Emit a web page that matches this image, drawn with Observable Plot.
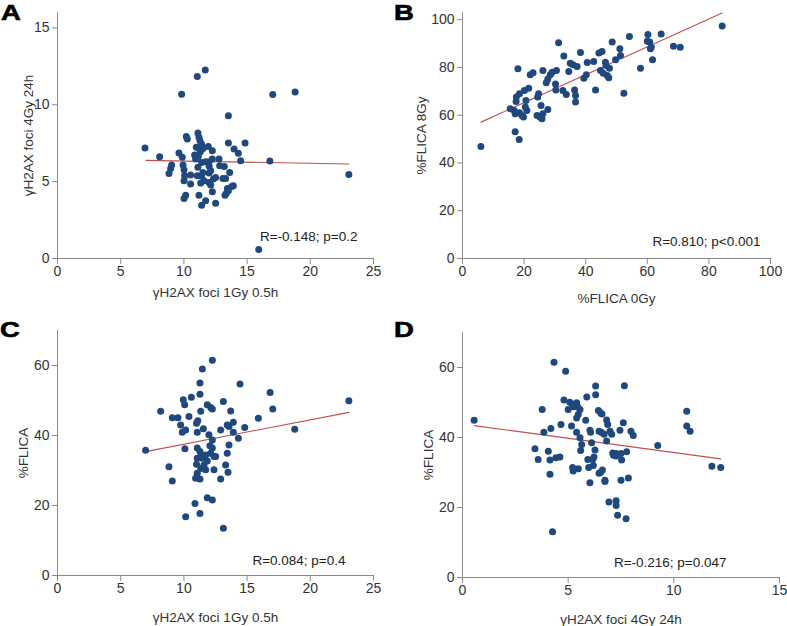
<!DOCTYPE html>
<html><head><meta charset="utf-8">
<script src="https://cdn.jsdelivr.net/npm/d3@7"></script>
<script src="https://cdn.jsdelivr.net/npm/@observablehq/plot@0.6"></script>
<style>
body{margin:0;background:#fff;}
#wrap{position:relative;width:787px;height:626px;font-family:"Liberation Sans",Arial,sans-serif;overflow:hidden;}
.panel{position:absolute;}
.letter{position:absolute;font-weight:bold;font-size:22px;line-height:1.1;color:#000;font-family:"Liberation Sans",Arial,sans-serif;transform:scaleX(1.25);transform-origin:left top;-webkit-text-stroke:0.6px #000;}
</style></head><body><div id="wrap"></div>
<script>
// Panel A: γH2AX foci 1Gy 0.5h vs γH2AX foci 4Gy 24h
const aX = [6.92,8.08,8.82,8.95,9.03,9.61,9.87,9.82,9.93,10.01,10.06,10.01,10.14,10.01,10.19,10.27,10.53,10.53,10.85,10.93,10.98,11.06,11.11,11.14,11.19,11.27,11.40,11.19,11.51,11.93,11.11,11.06,11.40,11.33,11.59,11.19,11.40,11.72,11.40,11.72,11.99,11.69,12.25,12.25,12.12,11.99,11.99,12.12,12.51,12.33,12.25,12.51,12.78,12.83,13.09,13.20,13.30,13.62,13.52,13.52,13.97,14.31,14.49,14.84,13.44,13.78,13.91,13.36,13.25,13.52,16.80,17.03,18.80,23.05,15.92,11.30,12.00,11.50];
const aY = [7.18,6.62,5.53,5.86,6.08,6.86,6.58,10.68,6.08,5.77,5.38,5.06,4.12,3.91,7.94,7.77,5.43,4.84,6.73,6.47,7.23,11.83,8.16,6.64,7.88,7.66,7.45,7.16,7.16,7.29,5.93,5.38,5.38,4.91,5.06,4.12,3.47,3.76,6.25,6.29,6.29,12.26,7.01,6.47,5.71,5.56,4.95,4.78,5.27,5.17,4.34,3.60,6.47,6.03,5.21,5.99,5.21,5.60,9.29,7.51,7.12,6.84,6.36,7.51,4.56,4.69,4.73,4.25,4.12,4.41,6.34,10.66,10.83,5.47,0.59,6.95,6.00,5.60];
const aFitX = [7.0, 23.05];
const aFitY = [6.38, 6.15];

// Panel B: %FLICA 0Gy vs %FLICA 8Gy
const bX = [5.97,18.4,17.1,15.5,16.8,17.1,18.5,19.3,19.8,20.4,20.9,17.4,17.5,18.5,20.1,21.5,18.0,22.0,22.9,24.4,24.7,25.5,24.2,25.1,25.8,26.1,27.7,26.1,27.2,27.7,28.5,29.1,30.5,30.2,30.3,31.2,32.9,32.6,33.7,35.0,35.9,37.2,34.5,38.3,36.4,36.7,36.7,39.4,40.2,40.5,42.6,43.2,44.3,45.3,44.8,45.7,46.4,46.6,47.0,47.5,47.7,48.6,49.7,51.1,51.3,52.4,54.2,57.8,60.2,60.0,60.8,61.3,61.0,61.7,64.5,68.5,70.7,84.3,20.6];
const bY = [46.9,49.8,53.1,62.7,62.0,60.6,61.0,59.9,59.2,63.4,62.0,65.7,67.6,69.0,70.3,71.3,79.4,76.9,77.8,67.6,69.0,64.1,59.9,59.2,58.5,60.6,62.4,78.7,73.6,75.2,76.9,78.0,78.7,73.1,70.6,90.3,84.8,70.3,68.7,81.8,81.1,80.4,78.3,86.3,70.6,68.3,65.5,75.5,76.9,82.1,82.5,70.6,86.0,86.7,78.7,77.6,82.2,80.8,76.6,75.7,79.7,90.6,83.2,87.8,85.0,69.2,93.0,79.7,93.8,91.0,90.6,88.5,87.8,83.2,94.0,88.9,88.5,97.3,66.2];
const bFitX = [6.0, 84.3];
const bFitY = [57.1, 102.8];

// Panel C: γH2AX foci 1Gy 0.5h vs %FLICA
const cX = [8.16,6.97,8.82,9.08,9.08,9.53,9.74,9.87,9.95,10.06,10.14,10.08,10.40,10.59,10.14,10.88,10.93,11.00,11.06,11.10,11.54,11.27,11.27,11.46,12.25,11.33,11.85,12.12,12.25,11.98,12.25,11.06,11.27,11.38,11.06,11.46,11.72,11.85,11.59,12.12,12.25,12.06,12.38,11.00,11.33,11.72,11.06,11.27,12.38,12.91,13.30,13.43,13.57,13.49,12.91,13.43,13.57,13.91,13.91,14.31,14.81,13.70,13.12,14.44,11.85,12.25,11.27,13.12,15.89,16.82,17.03,18.77,23.05,12.51];
const cY = [46.9,35.8,31.1,27.0,45.1,45.1,43.0,40.9,50.2,48.8,41.6,36.2,45.4,50.9,16.8,20.6,27.8,43.5,40.9,44.2,41.9,51.8,55.0,59.0,61.5,46.9,48.8,48.0,47.6,40.2,38.7,36.4,35.4,34.4,33.5,33.5,34.4,32.7,31.6,34.9,36.4,37.1,34.0,31.8,30.6,30.2,29.2,27.6,30.2,27.6,31.6,34.9,37.3,29.5,41.6,43.0,42.6,40.9,43.8,39.2,42.3,47.0,49.7,54.7,22.2,21.6,17.7,13.5,44.9,52.3,47.6,41.8,49.9,34.0];
const cFitX = [6.97, 23.05];
const cFitY = [35.4, 46.6];

// Panel D: γH2AX foci 4Gy 24h vs %FLICA
const dX = [0.55,3.77,3.85,3.43,3.58,4.06,4.14,4.14,4.18,4.26,4.33,4.42,4.61,4.66,4.88,4.80,5.00,5.08,5.21,5.24,5.16,5.21,5.24,5.48,5.40,5.45,5.48,5.40,5.56,5.40,5.56,5.64,5.59,5.88,5.83,5.93,5.97,6.03,6.06,6.03,6.11,6.16,6.22,6.19,6.27,6.30,6.30,6.43,6.54,6.60,6.46,6.58,6.70,6.46,6.54,6.62,6.74,6.74,6.82,6.87,6.82,6.93,6.98,7.06,7.11,7.14,7.27,7.27,7.27,7.27,7.34,7.45,7.50,7.53,7.50,7.61,7.66,7.74,7.77,7.85,7.97,8.08,9.24,10.61,10.61,10.77,11.80,12.22];
const dY = [44.9,48.0,41.5,36.8,33.7,36.1,33.6,29.5,42.6,13.1,61.5,34.2,34.4,43.7,58.9,50.7,48.0,50.1,49.4,48.8,43.3,31.4,30.4,31.1,49.9,48.7,46.6,45.6,48.0,41.5,39.9,38.0,36.3,51.6,44.9,33.7,31.4,27.1,41.5,42.1,38.5,33.7,34.4,32.0,36.4,54.7,52.2,47.7,47.0,46.7,41.8,41.4,40.9,29.8,30.1,30.7,27.8,27.4,45.0,43.7,39.0,21.6,41.8,40.9,35.6,34.9,35.4,34.7,21.9,20.6,17.8,42.1,35.4,33.6,27.8,44.2,54.8,16.8,35.9,28.4,41.8,40.6,37.7,47.5,43.3,41.8,31.8,31.4];
const dFitX = [0.55, 12.22];
const dFitY = [43.4, 33.9];

// Axis ticks and labels
const ticksFoci1 = [0,5,10,15,20,25];
const ticksFoci4 = [0,5,10,15];
const ticksPct = [0,20,40,60,80,100];
const ticksPct60 = [0,20,40,60];
const letters = ["A","B","C","D"];
const labelFoci1 = "γH2AX foci 1Gy 0.5h";
const labelFoci4 = "γH2AX foci 4Gy 24h";
const labelF8 = "%FLICA 8Gy";
const labelF0 = "%FLICA 0Gy";
const labelF = "%FLICA";
const stats = ["R=-0.148; p=0.2","R=0.810; p<0.001","R=0.084; p=0.4","R=-0.216; p=0.047"];

const FONT = '"Liberation Sans", Arial, sans-serif';
const AXIS = "#8a8a8a", TXT = "#333", DOT = "#1f497d", FIT = "#c0504d";

function panel(o) {
  const pts = o.xs.map((x, i) => ({x, y: o.ys[i]}));
  const fit = o.fx.map((x, i) => ({x, y: o.fy[i]}));
  const chart = Plot.plot({
    width: o.width, height: o.height,
    marginLeft: o.ml, marginRight: o.mr, marginTop: o.mt, marginBottom: o.mb,
    style: {fontFamily: FONT, fontSize: "13.5px", color: TXT, background: "transparent", overflow: "visible"},
    x: {domain: o.xDomain},
    y: {domain: o.yDomain},
    marks: [
      Plot.axisX({ticks: o.xTicks, tickSize: 6, tickPadding: 2, stroke: AXIS, fill: TXT, label: null, fontSize: 14}),
      Plot.axisY({ticks: o.yTicks, tickSize: 5, tickPadding: 3, stroke: AXIS, fill: TXT, label: null, fontSize: 14}),
      Plot.ruleY([o.yDomain[0]], {stroke: AXIS, strokeWidth: 1}),
      Plot.ruleX([o.xDomain[0]], {stroke: AXIS, strokeWidth: 1}),
      Plot.line(fit, {x: "x", y: "y", stroke: FIT, strokeWidth: 1.1}),
      Plot.dot(pts, {x: "x", y: "y", r: 3.5, fill: DOT, stroke: "none"}),
      Plot.text([o.stat], {text: d => d, frameAnchor: "bottom-right", textAnchor: "end", lineAnchor: "middle", dx: o.sdx, dy: o.sdy, fill: "#222", fontSize: 13.5}),
      Plot.text([o.xLabel], {text: d => d, frameAnchor: "bottom", textAnchor: "middle", lineAnchor: "middle", dy: o.xldy, fill: TXT, fontSize: 13.5}),
      Plot.text([o.yLabel], {text: d => d, frameAnchor: "left", textAnchor: "middle", lineAnchor: "middle", rotate: -90, dx: o.yldx, fill: TXT, fontSize: 13.5})
    ]
  });
  const div = document.createElement("div");
  div.className = "panel";
  div.style.left = o.left + "px";
  div.style.top = o.top + "px";
  div.appendChild(chart);
  document.getElementById("wrap").appendChild(div);
  const L = document.createElement("div");
  L.className = "letter";
  L.textContent = o.letter;
  L.style.left = o.lx + "px";
  L.style.top = o.ly + "px";
  document.getElementById("wrap").appendChild(L);
}

panel({xs: aX, ys: aY, fx: aFitX, fy: aFitY, xDomain: [0,25], yDomain: [0,16], xTicks: ticksFoci1, yTicks: [0,5,10,15],
  xLabel: labelFoci1, yLabel: labelFoci4, stat: stats[0], letter: letters[0],
  left: 0, top: 0, width: 393, height: 313, ml: 57, mr: 20, mt: 12, mb: 55,
  sdx: -16, sdy: -22, xldy: 34, yldx: -29, lx: 1, ly: 1});

panel({xs: bX, ys: bY, fx: bFitX, fy: bFitY, xDomain: [0,100], yDomain: [0,103], xTicks: ticksPct, yTicks: ticksPct,
  xLabel: labelF0, yLabel: labelF8, stat: stats[1], letter: letters[1],
  left: 393, top: 0, width: 394, height: 313, ml: 69, mr: 17, mt: 12, mb: 55,
  sdx: -10, sdy: -17, xldy: 40, yldx: -41, lx: 394, ly: 1});

panel({xs: cX, ys: cY, fx: cFitX, fy: cFitY, xDomain: [0,25], yDomain: [0,70], xTicks: ticksFoci1, yTicks: ticksPct60,
  xLabel: labelFoci1, yLabel: labelF, stat: stats[2], letter: letters[2],
  left: 0, top: 313, width: 393, height: 313, ml: 57, mr: 20, mt: 17, mb: 51,
  sdx: -28, sdy: -15, xldy: 42, yldx: -34, lx: 0, ly: 318});

panel({xs: dX, ys: dY, fx: dFitX, fy: dFitY, xDomain: [0,15], yDomain: [0,70], xTicks: ticksFoci4, yTicks: ticksPct60,
  xLabel: labelFoci4, yLabel: labelF, stat: stats[3], letter: letters[3],
  left: 393, top: 313, width: 394, height: 313, ml: 69, mr: 8, mt: 19, mb: 49,
  sdx: -53, sdy: -15, xldy: 42, yldx: -34, lx: 394, ly: 318});
</script>
</body></html>
